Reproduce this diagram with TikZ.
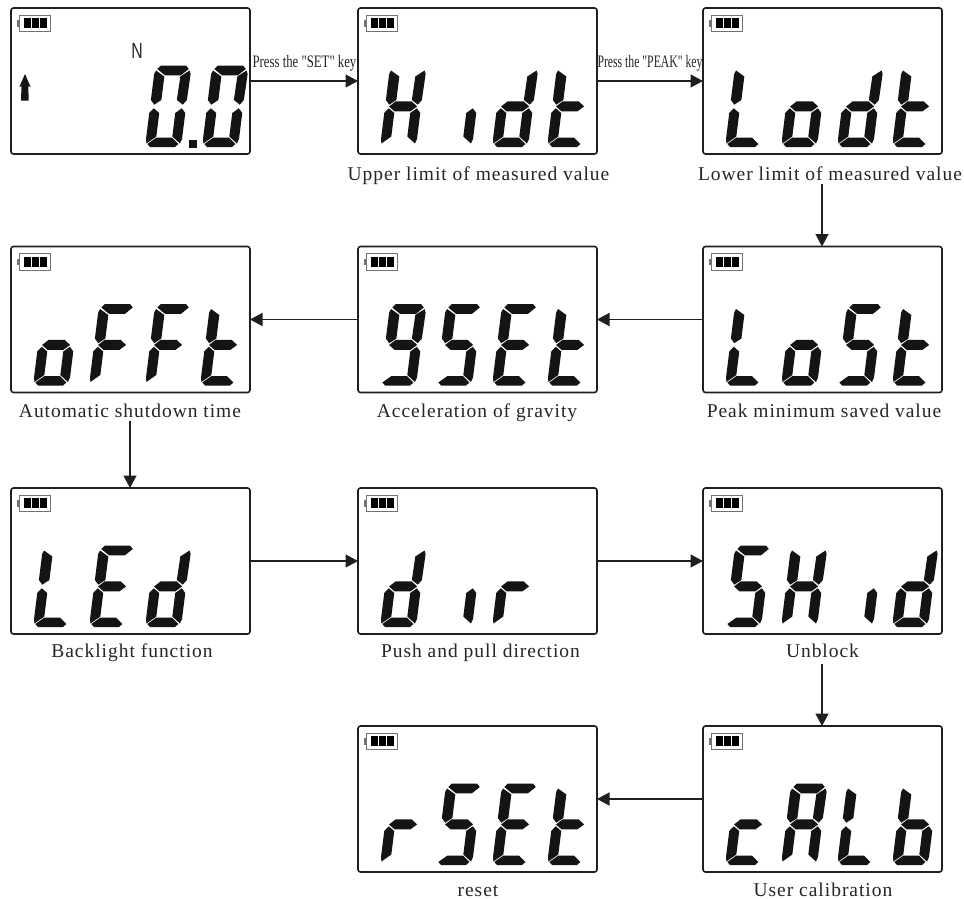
\documentclass[tikz,border=0pt]{standalone}
\usepackage{fontspec}
\setmainfont{Liberation Serif}
\newfontfamily\labfont[LetterSpace=5]{Liberation Serif}
\newfontfamily\keyfont{Liberation Serif}
\newfontfamily\nfont{Liberation Sans}
\usetikzlibrary{arrows.meta,calc}
\def\sega{(2.5,78) -- (5.5,81.3) -- (31,81.3) -- (34,78) -- (27,71.7) -- (11,71.7) -- cycle}
\def\segb{(35,76.5) -- (36.5,73) -- (36,47) -- (32.5,42.3) -- (26,47) -- (26.5,70.5) -- cycle}
\def\segc{(32,38.7) -- (36,34) -- (36,8) -- (34.5,3.5) -- (26,10.5) -- (26,34) -- cycle}
\def\segd{(2,3) -- (5,0) -- (30,0) -- (33,3) -- (26,9.3) -- (10,9.3) -- cycle}
\def\sege{(4,38.7) -- (0,34) -- (0,8) -- (1,3.5) -- (10,10.5) -- (10,34) -- cycle}
\def\segf{(1.5,76.5) -- (0,73) -- (0,47) -- (4,42.3) -- (10.5,47) -- (10.5,70.5) -- cycle}
\def\segg{(4,40.5) -- (10,35.7) -- (26,35.7) -- (32,40.5) -- (26,45.7) -- (10,45.7) -- cycle}
\tikzset{
 panel/.style={draw=black!88,line width=1.6pt,rounded corners=2.5pt,minimum width=239pt,minimum height=146pt,inner sep=0pt,outer sep=0pt,fill=white},
 conn/.style={line width=1.5pt,draw=black!88,-{Triangle[length=12.5pt,width=13pt]}},
 captext/.style={font=\labfont\fontsize{19.5}{21}\selectfont,text=black!85,inner sep=0pt,anchor=base},
 keylab/.style={font=\keyfont\fontsize{17.5}{19}\selectfont,text=black!85,inner sep=0pt,anchor=base},
 lcd/.style={fill=black!92,draw=none},
 batt/.style={draw=black!55,line width=.9pt,fill=white},
}
\newcommand\dgt[3]{\begin{scope}[shift={(#1,#2)},yscale=-1,xslant=-0.125]
 \foreach \q in {#3}{\fill[lcd] \csname seg\q\endcsname;}
\end{scope}}
\newcommand\battery[1]{\begin{scope}[shift={(#1.north west)}]
 \fill[black!55] (6.3,12) rectangle (8.7,18.7);
 \draw[batt] (8.7,7) rectangle (39.7,23.7);
 \fill[black] (12.7,10.3) rectangle (19.7,20.3);
 \fill[black] (21,10.3) rectangle (27.7,20.3);
 \fill[black] (29.3,10.3) rectangle (36,20.3);
\end{scope}}
\newcommand\four[5]{\path (#1.south west) ++(22,-7) coordinate (o);
 \path let \p1=(o) in \pgfextra{\pgfmathsetmacro\ox{\x1/1pt}\pgfmathsetmacro\oy{-\y1/1pt}\xdef\ox{\ox}\xdef\oy{\oy}};
 \ifx&#2&\else\dgt{\ox}{\oy}{#2}\fi
 \ifx&#3&\else\dgt{\ox+56}{\oy}{#3}\fi
 \ifx&#4&\else\dgt{\ox+112}{\oy}{#4}\fi
 \ifx&#5&\else\dgt{\ox+167}{\oy}{#5}\fi}
\begin{document}
\begin{tikzpicture}[x=1pt,y=-1pt]
\useasboundingbox (0,0) rectangle (964,899);
\fill[white] (0,0) rectangle (964,899);
\node[panel] (p1) at (130.5,81) {};
\node[panel] (p2) at (477.5,81) {};
\node[panel] (p3) at (822.5,81) {};
\node[panel] (p4) at (822.5,319.5) {};
\node[panel] (p5) at (477.5,319.5) {};
\node[panel] (p6) at (130.5,319.5) {};
\node[panel] (p7) at (130.5,561) {};
\node[panel] (p8) at (477.5,561) {};
\node[panel] (p9) at (822.5,561) {};
\node[panel] (p10) at (822.5,799) {};
\node[panel] (p11) at (477.5,799) {};
\foreach \p in {p1,p2,p3,p4,p5,p6,p7,p8,p9,p10,p11}{\battery{\p}}
\dgt{145}{147}{a,b,c,d,e,f}
\dgt{202}{147}{a,b,c,d,e,f}
\fill[lcd] (189,140) rectangle (197,148);
\node[inner sep=0pt,font=\nfont\fontsize{22}{24}\selectfont,text=black!85] (unit) at (137,51) {\scalebox{.72}[1]{N}};
\fill[black!92] (25,74) -- (30.7,87) -- (28.3,86) -- (28.7,100.7) -- (21,100.7) -- (21.5,86) -- (19.3,87) -- cycle;
\four{p2}{b,c,e,f,g}{c}{b,c,d,e,g}{d,e,f,g}
\four{p3}{d,e,f}{c,d,e,g}{b,c,d,e,g}{d,e,f,g}
\four{p4}{d,e,f}{c,d,e,g}{a,c,d,f,g}{d,e,f,g}
\four{p5}{a,b,c,d,f,g}{a,c,d,f,g}{a,d,e,f,g}{d,e,f,g}
\four{p6}{c,d,e,g}{a,e,f,g}{a,e,f,g}{d,e,f,g}
\four{p7}{d,e,f}{a,d,e,f,g}{b,c,d,e,g}{}
\four{p8}{b,c,d,e,g}{c}{e,g}{}
\four{p9}{a,c,d,f,g}{b,c,e,f,g}{c}{b,c,d,e,g}
\four{p10}{d,e,g}{a,b,c,e,f,g}{d,e,f}{c,d,e,f,g}
\four{p11}{e,g}{a,c,d,f,g}{a,d,e,f,g}{d,e,f,g}
\node[captext] (c2) at (478.5,180) {Upper limit of measured value};
\node[captext] (c3) at (830,180) {Lower limit of measured value};
\node[captext] (c4) at (824,417) {Peak minimum saved value};
\node[captext] (c5) at (477,417) {Acceleration of gravity};
\node[captext] (c6) at (130,417) {Automatic shutdown time};
\node[captext] (c7) at (132,657) {Backlight function};
\node[captext] (c8) at (480.5,657) {Push and pull direction};
\node[captext] (c9) at (822.5,657) {Unblock};
\node[captext] (c10) at (823,896) {User calibration};
\node[captext] (c11) at (478,896) {reset};
\coordinate (s3) at (822,184);
\coordinate (s6) at (130,421);
\coordinate (s9) at (822,664);
\draw[conn] (p1.east) -- (p2.west);
\draw[conn] (p2.east) -- (p3.west);
\draw[conn] (s3) -- (s3 |- p4.north);
\draw[conn] (p4.west) -- (p5.east);
\draw[conn] (p5.west) -- (p6.east);
\draw[conn] (s6) -- (s6 |- p7.north);
\draw[conn] (p7.east) -- (p8.west);
\draw[conn] (p8.east) -- (p9.west);
\draw[conn] (s9) -- (s9 |- p10.north);
\draw[conn] (p10.west) -- (p11.east);
\node[keylab] (k1) at (304.5,67.5) {\scalebox{.73}[1]{Press the "SET" key}};
\node[keylab] (k2) at (650,67.5) {\scalebox{.67}[1]{Press the "PEAK" key}};
\end{tikzpicture}
\end{document}
